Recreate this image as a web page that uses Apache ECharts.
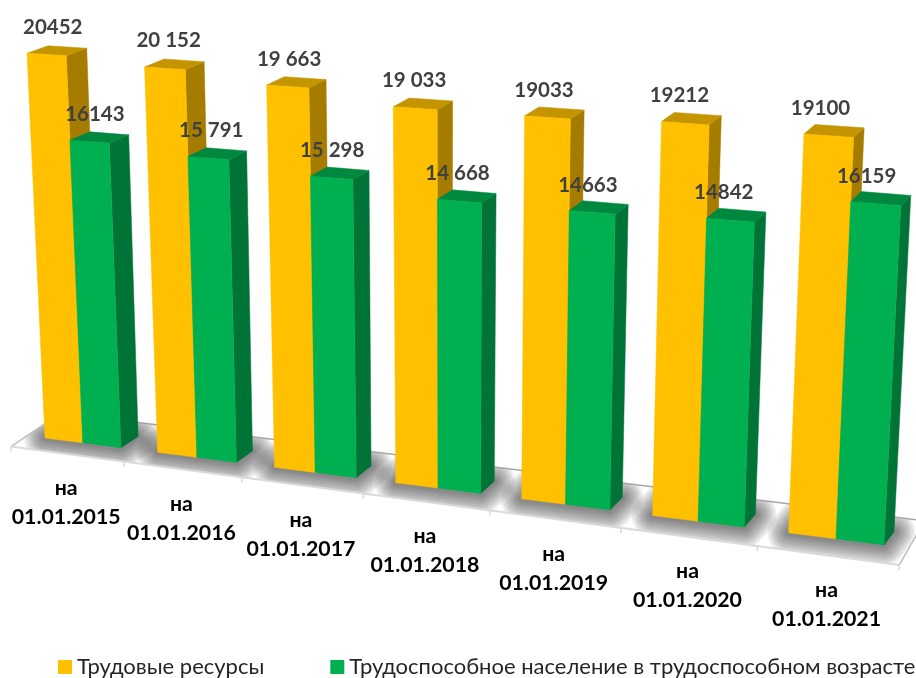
<!DOCTYPE html>
<html><head><meta charset="utf-8">
<style>html,body{margin:0;padding:0;background:#fff;overflow:hidden}#c{width:916px;height:678px}</style>
<script src="https://cdn.jsdelivr.net/npm/echarts@6/dist/echarts.min.js"></script>
</head><body><div id="c"></div>
<script>
const categories = ['на\n01.01.2015','на\n01.01.2016','на\n01.01.2017','на\n01.01.2018','на\n01.01.2019','на\n01.01.2020','на\n01.01.2021'];
const laborResources = [20452,20152,19663,19033,19033,19212,19100];
const workingAge = [16143,15791,15298,14668,14663,14842,16159];
const laborLabels = ['20452','20 152','19 663','19 033','19033','19212','19100'];
const workingLabels = ['16143','15 791','15 298','14 668','14663','14842','16159'];
const seriesNames = ['Трудовые ресурсы','Трудоспособное население в трудоспособном возрасте'];

const FONT = 'Lato, "Open Sans", sans-serif';
const AXIS_MAX = 20452;
// perspective projection of the (category, value) plane
const H = {a:733.8,b:-19.13,c:45,d:42.1,e:-387,f:438,g:-0.119,h:-0.042};
const U0 = 0.161, US = 6.678;
const lerp = (a,b,k)=>a+(b-a)*k;
function proj(s,t){
  const w = H.g*s+H.h*t+1;
  return [(H.a*s+H.b*t+H.c)/w,(H.d*s+H.e*t+H.f)/w];
}
function depth(s,t){
  return [lerp(lerp(18,21,t),10,s), lerp(lerp(-11,-7.5,t),lerp(-13,-9.5,t),s)];
}
function back(p,s,t){const d=depth(s,t);return [p[0]+d[0],p[1]+d[1]];}
function plane(params,api,i,frac,v){
  const cs=params.coordSys, band=cs.width/categories.length, p=api.coord([i,v]);
  const u=(p[0]-band/2+frac*band-cs.x)/band;
  return {s:(u-U0)/US,t:(cs.y+cs.height-p[1])/cs.height};
}
function face(points,color){
  return {type:'polygon',shape:{points},style:{fill:color,stroke:color,lineWidth:0.5}};
}
function barRenderer(f0,f1,colors,labels){
  return function(params,api){
    const i=api.value(0),v=api.value(1);
    const tl=plane(params,api,i,f0,v),tr=plane(params,api,i,f1,v),br=plane(params,api,i,f1,0),bl=plane(params,api,i,f0,0);
    const TL=proj(tl.s,tl.t),TR=proj(tr.s,tr.t),BR=proj(br.s,br.t),BL=proj(bl.s,bl.t);
    const TRb=back(TR,tr.s,tr.t),TLb=back(TL,tl.s,tl.t),BRb=back(BR,br.s,br.t);
    const cs=(tl.s+tr.s)/2;
    return {type:'group',children:[
      face([TR,BR,BRb,TRb],colors.side),
      face([TL,TR,TRb,TLb],colors.top),
      face([TL,TR,BR,BL],colors.front),
      {type:'text',z2:10,style:{text:labels[i],x:(TL[0]+TR[0])/2+6.5-16*cs,y:(TL[1]+TR[1])/2-27.5,
        align:'center',verticalAlign:'middle',fontFamily:FONT,fontWeight:'bold',fontSize:20.5,fill:'#404040'}}
    ]};
  };
}
const frontOff=s=>[-16+8*s,11+6*s];
const backOff=s=>[33-15*s,-23-4*s];
const SHADOW_STEPS=[3,5,7,9,11,13,15,17,19,21];
function floorRenderer(params,api){
  const i=api.value(0),n=categories.length,kids=[];
  const edge=(k,off)=>{const q=plane(params,api,k,0,0),P=proj(q.s,q.t),o=off(q.s);return [P[0]+o[0],P[1]+o[1]];};
  if(i===0){
    const fl=edge(0,frontOff),fr=edge(n,frontOff),bl=edge(0,backOff),br=edge(n,backOff);
    const up=p=>[p[0],p[1]-50], down=p=>[p[0],p[1]+50];
    kids.push({type:'polygon',shape:{points:[fl,fr,br,bl]},style:{fill:'#fff'}});
    categories.forEach((c,k)=>{
      const a=plane(params,api,k,U0,0),b=plane(params,api,k,1-U0,0);
      const A=proj(a.s,a.t),B=proj(b.s,b.t);
      SHADOW_STEPS.forEach(w=>{
        kids.push({type:'polygon',shape:{points:[A,B,back(B,b.s,b.t),back(A,a.s,a.t)]},
          style:{fill:null,stroke:'#222',lineWidth:w*2,lineJoin:'round',opacity:0.075}});
      });
    });
    const mask=pts=>kids.push({type:'polygon',shape:{points:pts},style:{fill:'#fff'}});
    mask([bl,br,up(br),up(bl)]);
    mask([fl,fr,down(fr),down(fl)]);
    mask([fl,bl,[bl[0]-70,bl[1]],[fl[0]-40,fl[1]]]);
    mask([fr,br,[br[0]+40,br[1]],[fr[0]+40,fr[1]]]);
    kids.push({type:'line',shape:{x1:bl[0],y1:bl[1],x2:br[0],y2:br[1]},style:{stroke:'#a6a6a6',lineWidth:1.5}});
    kids.push({type:'line',shape:{x1:fl[0],y1:fl[1],x2:bl[0],y2:bl[1]},style:{stroke:'#bfbfbf',lineWidth:1.5}});
    kids.push({type:'line',shape:{x1:fr[0],y1:fr[1],x2:br[0],y2:br[1]},style:{stroke:'#bfbfbf',lineWidth:1.5}});
    kids.push({type:'line',shape:{x1:fl[0],y1:fl[1],x2:fr[0],y2:fr[1]},style:{stroke:'#d9d9d9',lineWidth:2}});
    kids.push({type:'line',shape:{x1:fl[0],y1:fl[1],x2:fl[0],y2:fl[1]+5},style:{stroke:'#d9d9d9',lineWidth:1.5}});
  }
  const T=edge(i+1,frontOff);
  kids.push({type:'line',shape:{x1:T[0],y1:T[1],x2:T[0],y2:T[1]+5},style:{stroke:'#d9d9d9',lineWidth:1.5}});
  const m=plane(params,api,i,0.5,0),M=proj(m.s,m.t),o=frontOff(m.s);
  kids.push({type:'text',style:{text:categories[i],x:M[0]+o[0]-1,y:M[1]+o[1]+49,align:'center',verticalAlign:'middle',
    fontFamily:FONT,fontWeight:'bold',fontSize:21.3,lineHeight:29,fill:'#000'}});
  return {type:'group',children:kids};
}
const chart=echarts.init(document.getElementById('c'),null,{renderer:'canvas'});
chart.setOption({
  animation:false,
  backgroundColor:'#fff',
  grid:{left:0,right:0,top:0,bottom:0},
  xAxis:{type:'category',data:categories,show:false},
  yAxis:{type:'value',min:0,max:AXIS_MAX,show:false},
  legend:{left:58,top:656,padding:0,width:3000,itemWidth:14,itemHeight:14,itemGap:66,icon:'rect',
    data:seriesNames,textStyle:{fontFamily:FONT,fontSize:22,color:'#262626'}},
  series:[
    {type:'custom',name:'floor',clip:false,silent:true,data:categories.map((c,i)=>[i,0]),renderItem:floorRenderer,encode:{x:0,y:1}},
    {type:'custom',name:seriesNames[0],clip:false,itemStyle:{color:'#FFC000'},encode:{x:0,y:1},
      data:laborResources.map((v,i)=>[i,v]),
      renderItem:barRenderer(U0,0.5,{front:'#FFC000',side:'#A67C00',top:'#C49500'},laborLabels)},
    {type:'custom',name:seriesNames[1],clip:false,itemStyle:{color:'#00B050'},encode:{x:0,y:1},
      data:workingAge.map((v,i)=>[i,v]),
      renderItem:barRenderer(0.5,1-U0,{front:'#00B050',side:'#007336',top:'#00883E'},workingLabels)}
  ]
});
</script></body></html>
